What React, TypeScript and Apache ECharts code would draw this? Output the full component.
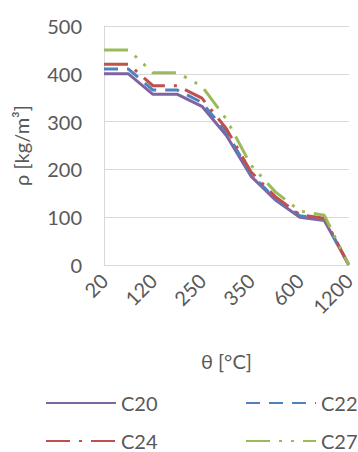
import React, { useEffect, useRef } from "react";
import * as echarts from "echarts";

const temperatures = ["20", "99", "120", "200", "250", "300", "350", "400", "600", "800", "1200"];
const c20 = [400, 400, 357, 357, 332, 271, 186, 136, 100, 93, 0];
const c22 = [410, 410, 366, 366, 340, 278, 190, 139, 103, 95, 0];
const c24 = [420, 420, 375, 375, 349, 285, 195, 143, 105, 98, 0];
const c27 = [450, 450, 402, 402, 374, 305, 209, 153, 113, 104, 0];
const seriesNames = ["C20", "C22", "C24", "C27"];

const FONT = "Lato";
const GREY = "#595959";

export default function App() {
  const ref = useRef<HTMLDivElement>(null);
  useEffect(() => {
    const chart = echarts.init(ref.current!, null, { renderer: "svg" });
    const mk = (name: string, data: number[], color: string, dash: any) => ({
      name,
      type: "line",
      data,
      symbol: "none",
      showSymbol: false,
      lineStyle: { color, width: 3, type: dash, cap: "butt" },
      itemStyle: { color },
    });
    const legendBase = {
      itemWidth: 70,
      itemHeight: 14,
      itemGap: 0,
      padding: 0,
      itemStyle: { opacity: 0 },
      textStyle: { fontFamily: FONT, fontSize: 20, color: GREY },
    };
    chart.setOption({
      animation: false,
      grid: { left: 104, right: 5, top: 26, bottom: 187 },
      legend: [
        { ...legendBase, data: [seriesNames[0]], left: 45, top: 393 },
        { ...legendBase, data: [seriesNames[1]], left: 245, top: 393 },
        { ...legendBase, data: [seriesNames[2]], left: 45, top: 431 },
        { ...legendBase, data: [seriesNames[3]], left: 245, top: 431 },
      ],
      xAxis: {
        type: "category",
        data: temperatures,
        boundaryGap: false,
        name: "θ [°C]",
        nameLocation: "middle",
        nameGap: 86,
        nameTextStyle: { fontFamily: FONT, fontSize: 20, color: GREY },
        axisLine: { lineStyle: { color: "#D9D9D9", width: 1 } },
        axisTick: { show: false },
        axisLabel: {
          interval: 1,
          rotate: 45,
          margin: 12,
          fontFamily: FONT,
          fontSize: 20,
          color: GREY,
        },
        splitLine: { show: false },
      },
      yAxis: {
        type: "value",
        min: 0,
        max: 500,
        interval: 100,
        name: "ρ [kg/m³]",
        nameLocation: "middle",
        nameGap: 73,
        nameTextStyle: { fontFamily: FONT, fontSize: 20, color: GREY },
        axisLine: { show: true, lineStyle: { color: "#D9D9D9", width: 1 } },
        axisTick: { show: false },
        axisLabel: { margin: 22, fontFamily: FONT, fontSize: 20, color: GREY },
        splitLine: { lineStyle: { color: "#D9D9D9", width: 1 } },
      },
      series: [
        mk(seriesNames[0], c20, "#8064A2", "solid"),
        mk(seriesNames[1], c22, "#4F81BD", [14, 9]),
        mk(seriesNames[2], c24, "#C0504D", [24, 9, 3, 9]),
        mk(seriesNames[3], c27, "#9BBB59", [24, 9, 3, 9, 3, 9]),
      ],
    });
    return () => chart.dispose();
  }, []);
  return (
    <div
      ref={ref}
      style={{ position: "fixed", left: 0, top: 0, width: 358, height: 452, background: "#fff" }}
    />
  );
}
